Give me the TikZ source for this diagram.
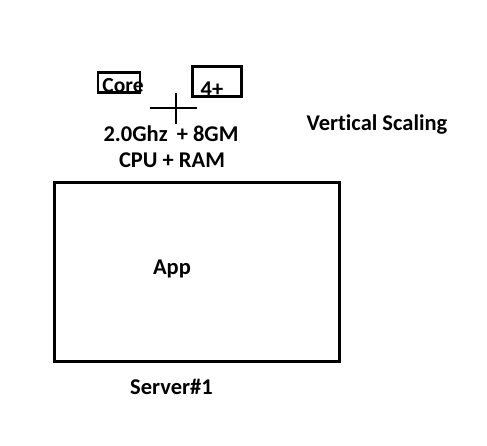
\documentclass[tikz,border=0pt]{standalone}
\usepackage{fontspec}
\setmainfont{Carlito}[Ligatures=NoCommon]
\usepackage{tikz}
\usetikzlibrary{positioning}

\begin{document}
\begin{tikzpicture}[
    x=1pt, y=-1pt,
    font=\fontsize{22.5}{25}\selectfont\bfseries,
    txt/.style={inner sep=0pt, anchor=center},
    hwbox/.style={rectangle, draw, line width=2.3pt, inner sep=0pt},
    srv/.style={rectangle, draw, line width=3pt, inner sep=0pt,
                minimum width=285pt, minimum height=179pt},
  ]
  \useasboundingbox (0,0) rectangle (487,445);

  %% ===== hardware (top) =====
  \node[hwbox, minimum width=42pt, minimum height=20pt] (corebox) at (119,82.5) {};
  \node[txt, font=\fontsize{21.5}{24}\selectfont\bfseries] (core) at (123,86) {Core};
  \node[hwbox, minimum width=49pt, minimum height=30pt] (fourbox) at (217,81.5) {};
  \node[txt] (four) at (212,89) {4+};

  %% plus sign between the two boxes
  \coordinate (pl) at (150,108);
  \coordinate (pr) at (197,108);
  \coordinate (pt) at (176,93);
  \coordinate (pb) at (176,124);
  \draw[line width=2pt] (pl) -- (pr);
  \draw[line width=2pt] (pt) -- (pb);

  \node[txt] (spec) at (171,134) {2.0Ghz\hspace{4pt} + 8GM};
  \node[txt] (unit) at (172,160) {CPU + RAM};

  \node[txt] (title) at (377,125) {Vertical Scaling};

  %% ===== server (bottom) =====
  \node[srv] (server) at (196.5,271.5) {};
  \node[txt] (app) at (172,269) {App};
  \node[txt, below=16pt of server.south, xshift=-25pt] (srvname) {Server\#1};
\end{tikzpicture}
\end{document}
